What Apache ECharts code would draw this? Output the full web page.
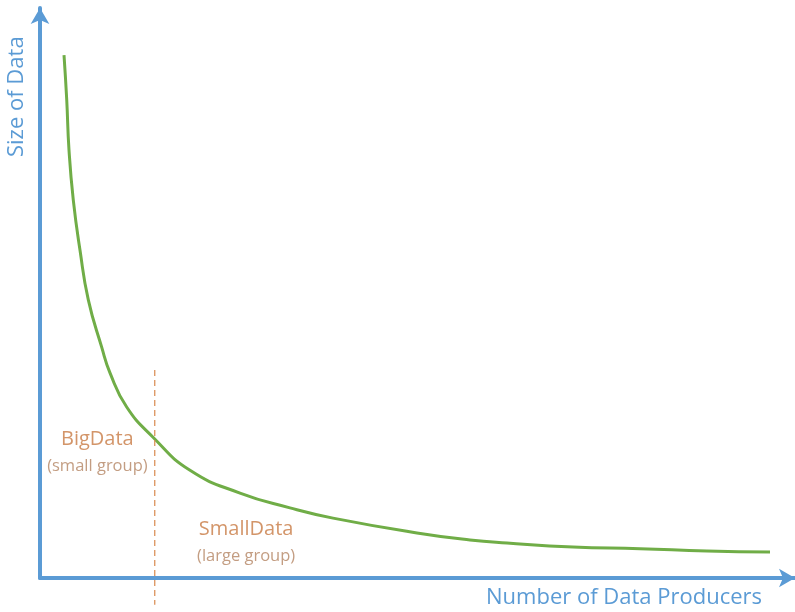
<!DOCTYPE html>
<html>
<head>
<meta charset="utf-8">
<script src="https://cdn.jsdelivr.net/npm/echarts@6/dist/echarts.min.js"></script>
<style>
  html, body { margin: 0; padding: 0; background: #fff; }
  #chart { width: 795px; height: 612px; }
</style>
</head>
<body>
<div id="chart"></div>
<script>
// curve (x: producers, y: size), arbitrary 0-100 units
const curveX = [3.18, 3.54, 3.84, 4.41, 5.30, 6.40, 8.17, 9.27, 11.48, 14.97, 19.87, 26.49, 33.11, 38.81, 49.93, 56.95, 61.85, 70.6, 79.47, 88.34, 96.69]
const curveY = [91.75, 83.9, 75.1, 66.3, 57.5, 48.8, 40.5, 36.0, 30.0, 24.7, 18.9, 14.9, 12.3, 10.5, 7.9, 6.67, 6.14, 5.44, 5.15, 4.74, 4.56]

// dashed split line
const splitX = 15.2
const splitY = [36.5, -4.7]

// group labels
const groupNames = ['BigData', 'SmallData']
const groupNotes = ['(small group)', '(large group)']
const groupPos = [[7.6, 21.9], [27.3, 6.1]]

const xTitle = 'Number of Data Producers'
const yTitle = 'Size of Data'

const blue = '#5B9BD5'
const font = 'Open Sans'

const myChart = echarts.init(document.getElementById('chart'))

const option = {
  animation: false,
  grid: { left: 40, right: 0, top: 8, bottom: 34 },
  xAxis: {
    type: 'value',
    min: 0,
    max: 100,
    axisLine: {
      lineStyle: { color: blue, width: 4 },
      symbol: ['none', 'arrow'],
      symbolSize: [14, 16]
    },
    axisTick: { show: false },
    axisLabel: { show: false },
    splitLine: { show: false }
  },
  yAxis: {
    type: 'value',
    min: 0,
    max: 100,
    axisLine: {
      show: true,
      lineStyle: { color: blue, width: 4 },
      symbol: ['none', 'arrow'],
      symbolSize: [14, 16]
    },
    axisTick: { show: false },
    axisLabel: { show: false },
    splitLine: { show: false }
  },
  graphic: [
    {
      type: 'text',
      left: 486,
      top: 587,
      style: { text: xTitle, fill: blue, font: '22px "Open Sans"' }
    },
    {
      type: 'text',
      x: 6,
      y: 157,
      rotation: Math.PI / 2,
      style: { text: yTitle, fill: blue, font: '22px "Open Sans"', textVerticalAlign: 'top' }
    }
  ],
  series: [
    {
      name: 'size',
      type: 'line',
      smooth: 0.5,
      symbol: 'none',
      lineStyle: { color: '#70AD47', width: 3 },
      data: curveX.map((x, i) => [x, curveY[i]])
    },
    {
      name: 'split',
      type: 'line',
      symbol: 'none',
      clip: false,
      lineStyle: { color: '#D98A4E', width: 1.2, type: [6, 4] },
      data: splitY.map(y => [splitX, y])
    },
    {
      name: 'labels',
      type: 'scatter',
      symbolSize: 0,
      label: {
        show: true,
        position: 'inside',
        align: 'center',
        lineHeight: 27,
        formatter: (p) => `{a|${groupNames[p.dataIndex]}}\n{b|${groupNotes[p.dataIndex]}}`,
        rich: {
          a: { fontFamily: font, fontSize: 20, color: '#C87A43', lineHeight: 27 },
          b: { fontFamily: font, fontSize: 16.5, color: '#B48463', lineHeight: 27 }
        }
      },
      data: groupPos
    }
  ]
}

myChart.setOption(option)
</script>
</body>
</html>
